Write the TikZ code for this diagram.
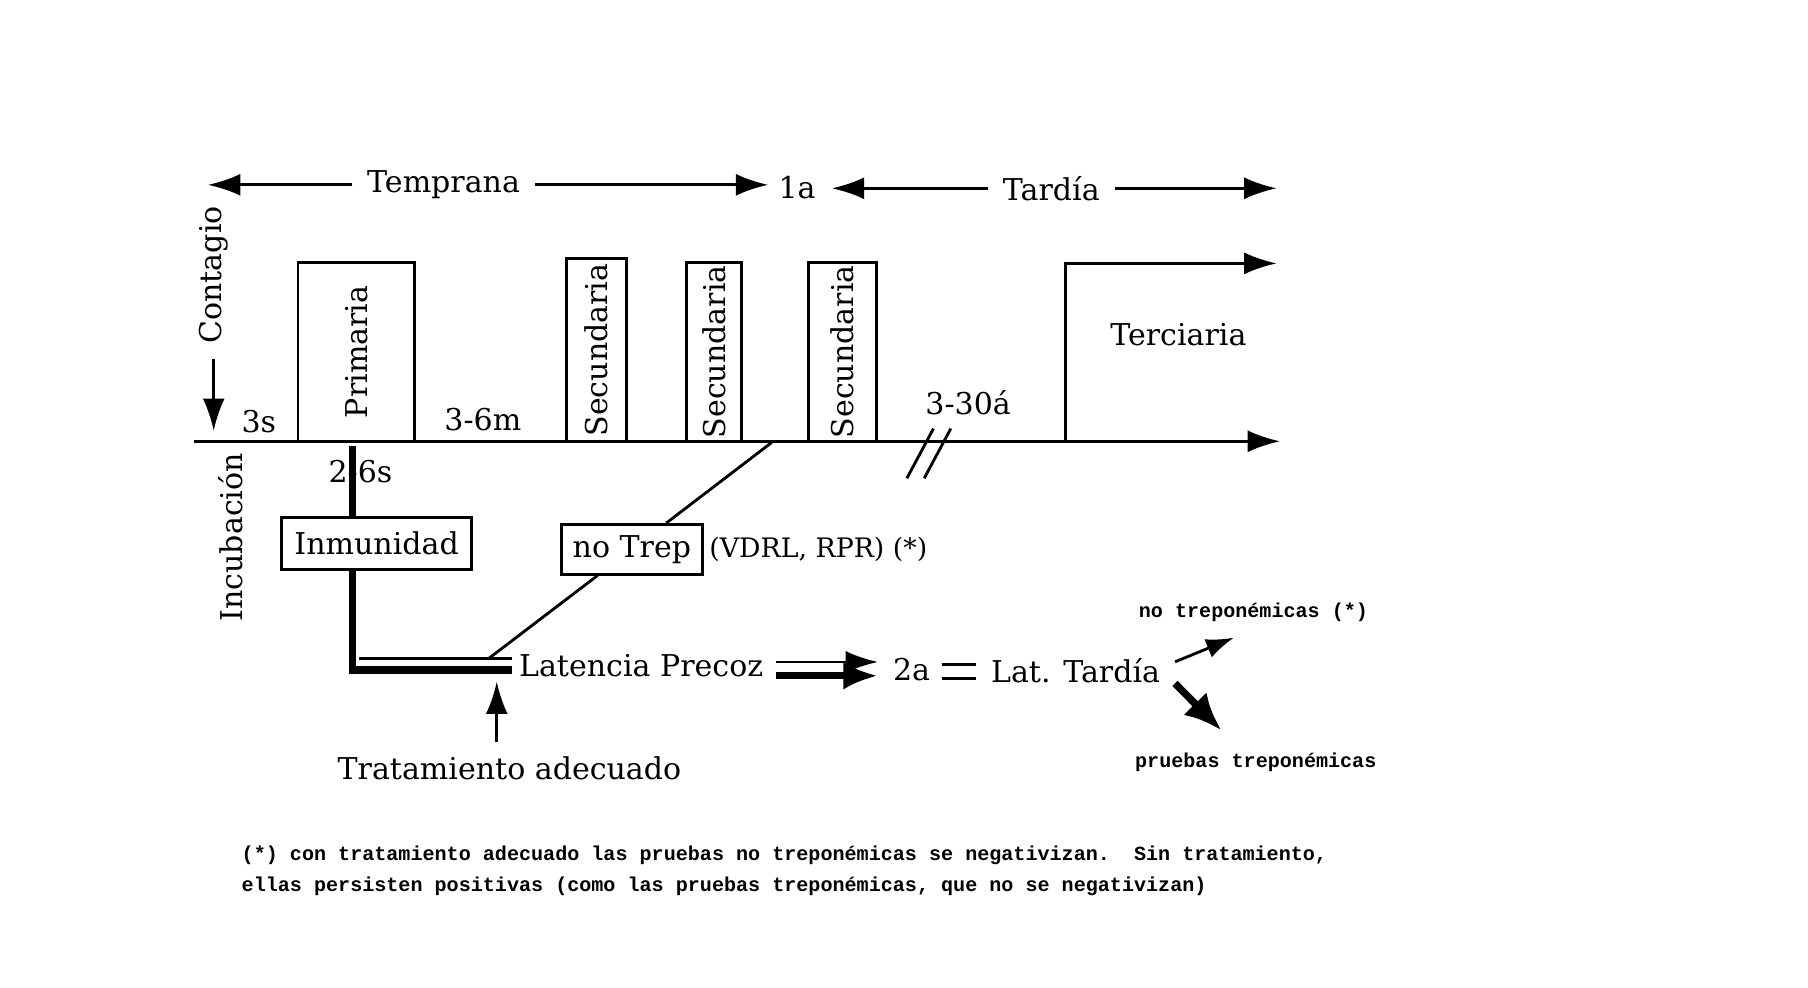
\documentclass[tikz,border=0pt]{standalone}
\usepackage{fontspec}
\setmainfont{DejaVu Serif}
\newfontfamily\notefont{Liberation Mono}
\usepackage{tikz}
\usetikzlibrary{arrows.meta, calc, positioning}
\newcommand{\txt}{\fontsize{7.4}{9}\selectfont}
\newcommand{\nota}{\notefont\bfseries\fontsize{4.95}{6}\selectfont}

\begin{document}
\begin{tikzpicture}[x=0.1mm, y=-0.1mm, font=\txt, line width=0.7pt,
        >={Latex[length=2.8mm, width=1.9mm]},
        box/.style={draw, inner sep=1pt},
        vbox/.style={draw, rotate=90, inner sep=0.5pt},
        grueso/.style={line width=1.8pt},
        nt/.style={font=\nota, inner sep=0pt}]
    \path[use as bounding box, fill=white] (0, 0) rectangle (1565, 855);

    \node (temp) at (384, 160) {Temprana};
    \node (una) at (690, 162) {1a};
    \node (tard) at (910, 163) {Tardía};
    \coordinate (t0) at (180, 160);
    \coordinate (t1) at (665, 160);
    \coordinate (t2) at (720, 163);
    \coordinate (t3) at (1105, 163);
    \draw
    (temp) edge[->] (t0)
    (temp) edge[->] (t1)
    (tard) edge[->] (t2)
    (tard) edge[->] (t3);

    \node[rotate=90] (cont) at (185, 238) {Contagio};
    \coordinate (c0) at (185, 373);
    \draw[->] (cont) -- (c0);
    \node (tres) at (224, 365) {3s};
    \node[rotate=90] (inc) at (200, 465) {Incubación};

    \node[vbox, minimum width=15.5mm, minimum height=10.1mm] (prim) at (308.5, 304.5) {Primaria};
    \node (tsm) at (418, 363) {3-6m};
    \node[vbox, minimum width=15.8mm, minimum height=5.2mm] (sec1) at (516, 303) {Secundaria};
    \node[vbox, minimum width=15.5mm, minimum height=4.8mm] (sec2) at (618, 304.5) {Secundaria};
    \node[vbox, minimum width=15.5mm, minimum height=5.9mm] (sec3) at (729.5, 304.5) {Secundaria};
    \node (tta) at (838, 349) {3-30á};
    \node (terc) at (1020, 290) {Terciaria};

    \coordinate (a0) at (168, 382);
    \coordinate (a1) at (1108, 382);
    \draw[->] (a0) -- (a1);
    \draw (785, 414) -- (808, 371);
    \draw (800, 414) -- (823, 371);
    \coordinate (q0) at (922, 382);
    \coordinate (q1) at (1105, 228);
    \draw[->] (q0) |- (q1);

    \node (dsm) at (312, 408) {2-6s};
    \node[box, minimum width=16.4mm, minimum height=4.5mm] (inm) at (326, 470.5) {Inmunidad};
    \node[box, minimum width=12.2mm, minimum height=4.3mm] (ntrep) at (547, 475.5) {no Trep};
    \node[right=0pt of ntrep, inner sep=1pt, font=\fontsize{6.6}{8}\selectfont] (vdrl) {(VDRL, RPR) (*)};
    \node (lp) at (555, 576) {Latencia Precoz};
    \node (trat) at (441, 665) {Tratamiento adecuado};
    \node (dos) at (789, 580) {2a};
    \node (lt) at (931, 581) {Lat. Tardía};
    \node[nt] (ntr) at (1085, 530) {no treponémicas (*)};
    \node[nt] (ptr) at (1087, 660) {pruebas treponémicas};

    \coordinate (p0) at (305, 386);
    \coordinate (p1) at (443, 580);
    \coordinate (p2) at (443, 570);
    \draw[grueso] (p0) -- (p0 |- inm.north);
    \draw[grueso] (p0 |- inm.south) |- (p1);
    \draw ($(p0 |- p2)+(6, 0)$) -- (p2);

    \coordinate (d1) at (668, 383);
    \coordinate (d2) at (423, 570);
    \draw (d1) -- (ntrep) -- (d2);

    \coordinate (tt) at (430, 590);
    \draw[->] (trat.north -| tt) -- (tt);

    \coordinate (f0) at (672, 573);
    \coordinate (f1) at (672, 585);
    \draw[->] (f0) -- (f0 -| dos.west);
    \draw[->, grueso, >={Latex[length=3mm, width=2.4mm]}] (f1) -- (f1 -| dos.west);
    \coordinate (g0) at (815, 575);
    \coordinate (g1) at (815, 587);
    \draw (g0) -- (g0 -| lt.west);
    \draw (g1) -- (g1 -| lt.west);

    \coordinate (n1) at (1068, 552);
    \coordinate (n2) at (1057, 632);
    \draw[->, >={Latex[length=2.4mm, width=1.7mm]}] ([yshift=2.3pt]lt.east) -- (n1);
    \draw[->, grueso, >={Latex[length=3.2mm, width=2.8mm]}] ([yshift=-3pt]lt.east) -- (n2);

    \node[nt, anchor=base west] (nota1) at (208, 745) {(*) con tratamiento adecuado las pruebas no treponémicas se negativizan.\ \ Sin tratamiento,};
    \node[nt, anchor=base west] (nota2) at (208, 772) {ellas persisten positivas (como las pruebas treponémicas, que no se negativizan)};
\end{tikzpicture}
\end{document}
